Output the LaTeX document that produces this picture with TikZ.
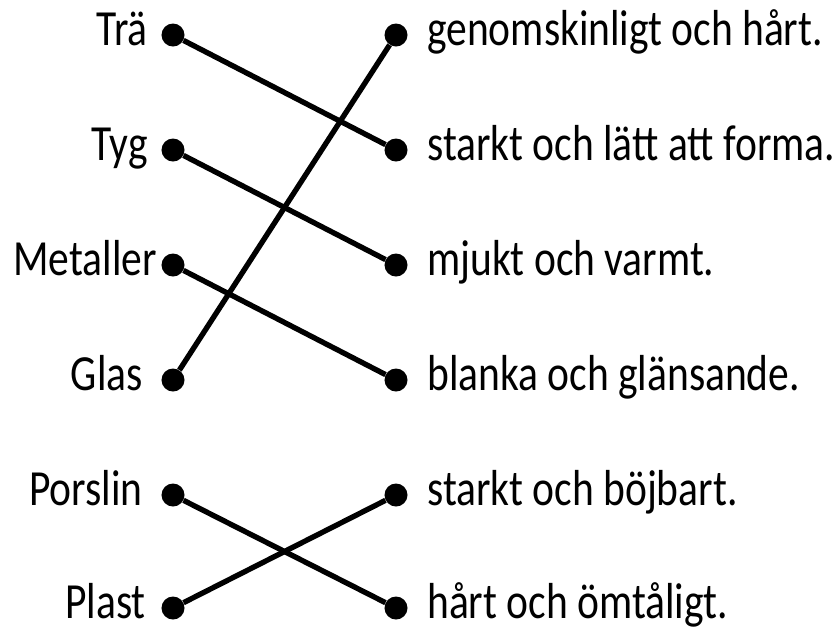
\documentclass[tikz,border=0pt]{standalone}
\usepackage{fontspec}
\setmainfont{Carlito}[FakeStretch=0.82]
\begin{document}
\begin{tikzpicture}[x=0.025cm, y=-0.025cm,
	punkt/.style={circle, fill=black, inner sep=0pt, minimum size=0.575cm},
	ord/.style={inner sep=0pt, font=\fontsize{36}{42}\selectfont},
	linje/.style={line width=3.8pt}]
	\useasboundingbox (0,0) rectangle (838,633);
	% punkter till vänster
	\node[punkt] (tra) at (173,35) {};
	\node[punkt] (tyg) at (173,150) {};
	\node[punkt] (metall) at (173,265) {};
	\node[punkt] (glas) at (173,380) {};
	\node[punkt] (porslin) at (173,495) {};
	\node[punkt] (plast) at (173,608) {};
	% punkter till höger
	\node[punkt] (genom) at (396,35) {};
	\node[punkt] (stark) at (396,150) {};
	\node[punkt] (mjuk) at (396,265) {};
	\node[punkt] (blank) at (396,380) {};
	\node[punkt] (bojbar) at (396,495) {};
	\node[punkt] (omtalig) at (396,608) {};
	% ord
	\node[ord, anchor=base east] (traOrd) at (148,45) {Trä};
	\node[ord, anchor=base east] (tygOrd) at (148,160) {Tyg};
	\node[ord, anchor=base east] (metallOrd) at (157,275) {Metaller};
	\node[ord, anchor=base east] (glasOrd) at (143,390) {Glas};
	\node[ord, anchor=base east] (porslinOrd) at (143,505) {Porslin};
	\node[ord, anchor=base east] (plastOrd) at (146,618) {Plast};
	\node[ord, anchor=base west] (genomOrd) at (427,45) {genomskinligt och hårt.};
	\node[ord, anchor=base west] (starkOrd) at (427,160) {starkt och lätt att forma.};
	\node[ord, anchor=base west] (mjukOrd) at (427,275) {mjukt och varmt.};
	\node[ord, anchor=base west] (blankOrd) at (427,390) {blanka och glänsande.};
	\node[ord, anchor=base west] (bojbarOrd) at (427,505) {starkt och böjbart.};
	\node[ord, anchor=base west] (omtaligOrd) at (427,618) {hårt och ömtåligt.};
	% linjer
	\draw[linje] (tra) -- (stark);
	\draw[linje] (tyg) -- (mjuk);
	\draw[linje] (metall) -- (blank);
	\draw[linje] (glas) -- (genom);
	\draw[linje] (porslin) -- (omtalig);
	\draw[linje] (plast) -- (bojbar);
\end{tikzpicture}
\end{document}
